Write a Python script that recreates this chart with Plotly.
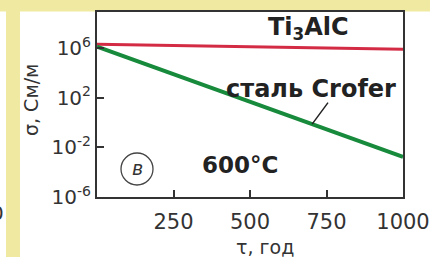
import numpy as np
import plotly.graph_objects as go

# ---- data ----
time_years = [0, 1000]
ti3alc_sigma = [2.0e6, 8.0e5]
crofer_sigma = [1.3e6, 1.7e-3]

x_tick_vals = [250, 500, 750, 1000]
x_tick_text = ["250", "500", "750", "1000"]
y_tick_vals = [1e-6, 1e-2, 1e2, 1e6]
y_tick_text = ["10<sup>-6</sup>", "10<sup>-2</sup>", "10<sup>2</sup>", "10<sup>6</sup>"]

label_ti = "Ti<sub>3</sub>AlC"
label_crofer = "сталь Crofer"
label_temp = "600°C"
label_panel = "в"
x_title = "τ, год"
y_title = "σ, См/м"

W, H = 430, 257
ml, mr, mt, mb = 97, 27, 12, 60
pw = W - ml - mr
ph = H - mt - mb

def px(xp):
    return (xp - ml) / pw

def py(yp):
    return (H - mb - yp) / ph

FONT = "DejaVu Sans"
TXT = "#333333"
YEL = "#efe9a2"

fig = go.Figure()
fig.add_trace(go.Scatter(x=time_years, y=ti3alc_sigma, mode="lines",
                         line=dict(color="#d42b45", width=3), showlegend=False))
fig.add_trace(go.Scatter(x=time_years, y=crofer_sigma, mode="lines",
                         line=dict(color="#178a3c", width=4), showlegend=False))

# pointer location on the Crofer line
xp_tip = 703
ly = np.interp(xp_tip, time_years, np.log10(crofer_sigma))

shapes = [
    dict(type="rect", xref="paper", yref="paper", x0=px(-5), x1=px(435),
         y0=py(11.5), y1=py(-5), fillcolor=YEL, line=dict(width=0), layer="below"),
    dict(type="rect", xref="paper", yref="paper", x0=px(6), x1=px(20),
         y0=py(262), y1=py(11), fillcolor=YEL, line=dict(width=0), layer="below"),
    dict(type="circle", xref="paper", yref="paper", x0=px(121), x1=px(153),
         y0=py(185), y1=py(153), line=dict(color="#444444", width=1.3)),
]

def txt(x, y, text, size, color=TXT, **kw):
    d = dict(x=px(x), y=py(y), xref="paper", yref="paper", text=text,
             xanchor="center", yanchor="middle", showarrow=False,
             font=dict(family=FONT, size=size, color=color))
    d.update(kw)
    return d

annotations = [
    txt(308, 29, "<b>" + label_ti + "</b>", 24, "#222222"),
    txt(311, 89, "<b>" + label_crofer + "</b>", 24, "#222222"),
    txt(240, 165, "<b>" + label_temp + "</b>", 23, "#222222"),
    txt(137, 168, "<i>" + label_panel + "</i>", 19, "#333333"),
    dict(x=xp_tip, y=ly, xref="x", yref="y", text="", showarrow=True, arrowhead=0,
         arrowwidth=1.5, arrowcolor="#222222", ax=17, ay=-23, standoff=0),
    txt(265, 247, x_title, 19),
    txt(31, 100, y_title, 19, textangle=-90),
    txt(6, 213, "0", 20, xanchor="right"),
]

fig.update_layout(
    width=W, height=H,
    margin=dict(l=ml, r=mr, t=mt, b=mb, autoexpand=False),
    paper_bgcolor="white", plot_bgcolor="white",
    shapes=shapes, annotations=annotations,
    showlegend=False,
)
fig.update_xaxes(range=[0, 1000], tickvals=x_tick_vals, ticktext=x_tick_text,
                 ticks="inside", ticklen=7, tickwidth=1.5, tickcolor="#333333",
                 showline=True, linecolor="#333333", linewidth=2, mirror=True,
                 showgrid=False, zeroline=False, automargin=False,
                 ticklabelstandoff=5,
                 tickfont=dict(family=FONT, size=21, color=TXT))
fig.update_yaxes(type="log", range=[-6, 8.9], tickvals=y_tick_vals, ticktext=y_tick_text,
                 ticks="inside", ticklen=7, tickwidth=1.5, tickcolor="#333333",
                 showline=True, linecolor="#333333", linewidth=2, mirror=True,
                 showgrid=False, zeroline=False, automargin=False,
                 tickfont=dict(family=FONT, size=20, color=TXT))

fig.write_html("out.html", config={"displayModeBar": False},
               post_script="document.body.style.margin='0px';document.body.style.padding='0px';")
